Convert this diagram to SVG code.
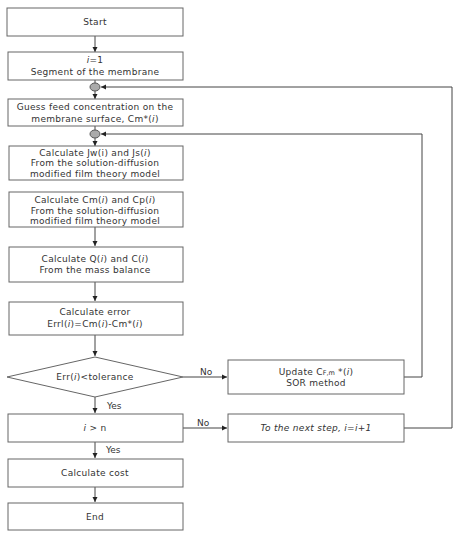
<svg xmlns="http://www.w3.org/2000/svg" width="462" height="542" viewBox="0 0 462 542">
<style>
.box{fill:#fff;stroke:#666;stroke-width:1}
.t{font-family:"DejaVu Sans","Noto Sans CJK KR",sans-serif;font-size:9px;letter-spacing:0.3px;fill:#333;text-anchor:middle}
.l{font-family:"DejaVu Sans","Noto Sans CJK KR",sans-serif;font-size:9px;fill:#333}
.c{fill:none;stroke:#444;stroke-width:1}
.dot{fill:#aaa;stroke:#555;stroke-width:1}
</style>
<defs>
<marker id="a" markerWidth="6" markerHeight="6" refX="5" refY="3" orient="auto" markerUnits="userSpaceOnUse">
<path d="M0,0.5 L5,3 L0,5.5 Z" fill="#222"/>
</marker>
</defs>
<rect width="462" height="542" fill="#fff"/>
<g id="connectors">
<line class="c" x1="95" y1="36" x2="95" y2="52" marker-end="url(#a)"/>
<line class="c" x1="95" y1="80" x2="95" y2="83"/>
<line class="c" x1="95" y1="91" x2="95" y2="99" marker-end="url(#a)"/>
<line class="c" x1="95" y1="126" x2="95" y2="130"/>
<line class="c" x1="95" y1="138" x2="95" y2="146" marker-end="url(#a)"/>
<line class="c" x1="95" y1="227" x2="95" y2="246" marker-end="url(#a)"/>
<line class="c" x1="95" y1="282" x2="95" y2="301" marker-end="url(#a)"/>
<line class="c" x1="95" y1="335" x2="95" y2="356" marker-end="url(#a)"/>
<line class="c" x1="95" y1="397" x2="95" y2="413" marker-end="url(#a)"/>
<line class="c" x1="95" y1="442" x2="95" y2="458" marker-end="url(#a)"/>
<line class="c" x1="95" y1="487" x2="95" y2="502" marker-end="url(#a)"/>
<line class="c" x1="183" y1="377" x2="227" y2="377" marker-end="url(#a)"/>
<line class="c" x1="183" y1="428" x2="227" y2="428" marker-end="url(#a)"/>
<polyline class="c" points="404,377 422,377 422,134 101,134" marker-end="url(#a)"/>
<polyline class="c" points="404,428 452,428 452,87 101,87" marker-end="url(#a)"/>
<text class="l" x="200" y="374.5">No</text>
<text class="l" x="197" y="425.5">No</text>
<text class="l" x="107" y="409">Yes</text>
<text class="l" x="106" y="453">Yes</text>
</g>
<g id="start"><rect class="box" x="7" y="8" width="176" height="28"/><text class="t" x="95" y="25.2">Start</text></g>
<g id="init"><rect class="box" x="8" y="52" width="175" height="28"/>
<text class="t" x="95" y="63.2"><tspan font-style="italic">i</tspan>=1</text>
<text class="t" x="95" y="74.7">Segment of the membrane</text></g>
<g id="merge1"><ellipse class="dot" cx="95" cy="87" rx="5" ry="4"/></g>
<g id="guess"><rect class="box" x="8" y="99" width="175" height="27"/>
<text class="t" x="95" y="110.2">Guess feed concentration on the</text>
<text class="t" x="95" y="121.7">membrane surface, Cm*(<tspan font-style="italic">i</tspan>)</text></g>
<g id="merge2"><ellipse class="dot" cx="95" cy="134" rx="5" ry="4"/></g>
<g id="jw"><rect class="box" x="9" y="146" width="174" height="34"/>
<text class="t" x="95" y="155.7">Calculate Jw(i) and Js(<tspan font-style="italic">i</tspan>)</text>
<text class="t" x="95" y="166.2">From the solution-diffusion</text>
<text class="t" x="95" y="176.7">modified film theory model</text></g>
<g id="cm"><rect class="box" x="9" y="192" width="174" height="35"/>
<text class="t" x="95" y="203.2">Calculate Cm(<tspan font-style="italic">i</tspan>) and Cp(<tspan font-style="italic">i</tspan>)</text>
<text class="t" x="95" y="213.7">From the solution-diffusion</text>
<text class="t" x="95" y="224.2">modified film theory model</text></g>
<g id="q"><rect class="box" x="9" y="247" width="174" height="35"/>
<text class="t" x="95" y="262.2">Calculate Q(<tspan font-style="italic">i</tspan>) and C(<tspan font-style="italic">i</tspan>)</text>
<text class="t" x="95" y="273.2">From the mass balance</text></g>
<g id="error"><rect class="box" x="9" y="302" width="174" height="33"/>
<text class="t" x="95" y="315.2">Calculate error</text>
<text class="t" x="95" y="327.2" font-size="8.5" letter-spacing="0">Errl(<tspan font-style="italic">i</tspan>)=Cm(<tspan font-style="italic">i</tspan>)-Cm*(<tspan font-style="italic">i</tspan>)</text></g>
<g id="decision1"><polygon class="box" points="95,357 183,377 95,397 7,377"/>
<text class="t" x="95" y="380.2" font-size="8.5" letter-spacing="0">Err(<tspan font-style="italic">i</tspan>)&lt;tolerance</text></g>
<g id="update"><rect class="box" x="228" y="360" width="176" height="34"/>
<text class="t" x="316" y="375.2">Update C<tspan font-size="6.5" letter-spacing="0">F,m</tspan> *(<tspan font-style="italic">i</tspan>)</text>
<text class="t" x="316" y="385.9">SOR method</text></g>
<g id="decision2"><rect class="box" x="8" y="414" width="175" height="28"/>
<text class="t" x="95" y="431.2"><tspan font-style="italic">i</tspan>  &gt; n</text></g>
<g id="next"><rect class="box" x="228" y="414" width="176" height="28"/>
<text class="t" x="316" y="431.2" font-style="italic">To the next step, i=i+1</text></g>
<g id="cost"><rect class="box" x="8" y="459" width="175" height="28"/>
<text class="t" x="95" y="476.2">Calculate cost</text></g>
<g id="end"><rect class="box" x="8" y="503" width="175" height="27"/>
<text class="t" x="95" y="520.2">End</text></g>
</svg>
